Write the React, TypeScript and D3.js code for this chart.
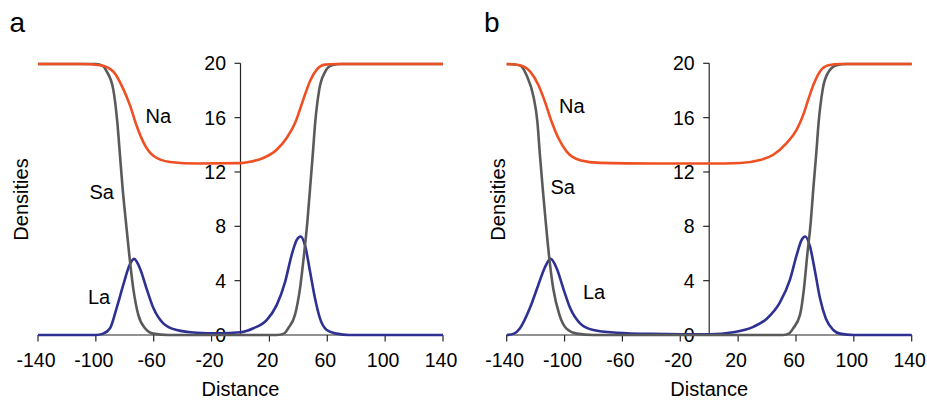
import React from "react";
import * as d3 from "d3";

// Tick values shared by both panels
const xTicks = [-140, -100, -60, -20, 20, 60, 100, 140];
const yTicks = [0, 4, 8, 12, 16, 20];

// Panel a: density profiles along the distance axis
const aNaX = [-140, -110, -97, -88, -81, -76.4, -71.8, -67.2, -60.3, -48.7, -30, 0, 6.6, 15.8, 25, 31.9, 37.7, 41.1, 44.6, 48.1, 52.7, 58.4, 66.5, 100, 140];
const aNaY = [19.95, 19.95, 19.85, 19.4, 18.1, 16.9, 15.4, 14.2, 13.2, 12.74, 12.62, 12.65, 12.75, 13.03, 13.64, 14.5, 15.6, 16.6, 17.7, 18.7, 19.53, 19.9, 19.95, 19.95, 19.95];

const aSaX = [-140, -100, -95, -92.5, -88, -85.2, -83.3, -81.5, -79.2, -76.9, -74.1, -70.7, -66, -60.3, -50, 25, 30, 33, 37.7, 41.1, 43.9, 46.2, 48.1, 49.9, 51.7, 54.5, 58.4, 63.1, 70, 140];
const aSaY = [19.95, 19.95, 19.8, 19.4, 18.1, 15.7, 13.2, 10.8, 8.3, 5.9, 3.4, 1.5, 0.5, 0.1, 0, 0, 0.1, 0.5, 1.5, 3.4, 5.9, 8.3, 10.8, 13.2, 15.7, 18.1, 19.35, 19.85, 19.95, 19.95];

const aLaX = [-140, -100, -95, -90.2, -85.6, -81, -76.9, -73.6, -69.5, -64.9, -60.3, -53.4, -44.1, -30.3, -15, 0, 8.9, 18.1, 25, 30.8, 35.4, 38.9, 41.6, 44.6, 48.1, 51.5, 55, 59.6, 66.5, 75, 140];
const aLaY = [0, 0, 0.1, 0.5, 2.0, 3.7, 5.1, 5.6, 4.9, 3.4, 2.0, 0.86, 0.37, 0.17, 0.12, 0.2, 0.5, 1.1, 2.2, 3.9, 5.9, 7.0, 7.25, 6.6, 4.65, 2.7, 1.2, 0.37, 0.1, 0, 0];

// Panel b
const bNaX = [-140, -131, -123.9, -118.1, -113.5, -108.9, -104.3, -98.5, -89.3, -75.5, -40, 0, 21.3, 35.1, 44.3, 53.5, 60.4, 65, 68.4, 72, 76.6, 82.4, 90.4, 100, 140];
const bNaY = [19.95, 19.85, 19.4, 18.4, 17.15, 15.7, 14.5, 13.5, 12.87, 12.67, 12.62, 12.62, 12.66, 12.88, 13.27, 14.13, 15.1, 16.2, 17.3, 18.4, 19.4, 19.85, 19.95, 19.95, 19.95];

const bSaX = [-140, -131, -126.2, -121.6, -118.8, -117, -115.1, -113, -110.8, -107.8, -103.6, -98.5, -91.6, -80, 51, 55, 58.1, 62.8, 65.5, 67.8, 70.2, 72, 73.9, 75.7, 78.5, 82.4, 88.1, 95, 140];
const bSaY = [19.95, 19.85, 19.1, 17.6, 15.7, 13.2, 10.8, 8.3, 5.9, 3.4, 1.5, 0.45, 0.1, 0, 0, 0.1, 0.5, 1.5, 3.4, 5.9, 8.3, 10.8, 13.2, 15.7, 18.1, 19.35, 19.85, 19.95, 19.95];

const bLaX = [-140, -135, -130.8, -123.9, -118.1, -113.5, -109.6, -105.4, -100.8, -96.2, -89.3, -80.1, -63.9, -40, -10, 0.5, 16.7, 30.5, 39.8, 48.9, 55.9, 60.5, 63.9, 66.4, 69.7, 73.2, 76.6, 80.7, 85.8, 90.4, 100, 140];
const bLaY = [0, 0.1, 0.5, 2.0, 3.7, 5.0, 5.6, 4.9, 3.4, 2.0, 0.86, 0.37, 0.17, 0.08, 0.05, 0.05, 0.2, 0.6, 1.2, 2.4, 4.1, 5.9, 7.0, 7.25, 6.5, 4.65, 2.7, 1.2, 0.37, 0.1, 0, 0];

const FONT = "Arial, 'Liberation Sans', Helvetica, sans-serif";
const COLORS = { Na: "#EF5023", Sa: "#5A5A5A", La: "#2E3192" };
const AXIS = "#262626";

type Pt = [number, number];
const zip = (xs: number[], ys: number[]): Pt[] => xs.map((x, i) => [x, ys[i]]);

interface Label { text: string; x: number; y: number }
interface PanelProps {
  letter: string;
  letterX: number;
  x0: number;
  x1: number;
  ylabelX: number;
  na: Pt[];
  sa: Pt[];
  la: Pt[];
  labels: Label[];
}

function Panel({ letter, letterX, x0, x1, ylabelX, na, sa, la, labels }: PanelProps) {
  const x = d3.scaleLinear().domain([-140, 140]).range([x0, x1]);
  const y = d3.scaleLinear().domain([0, 20]).range([335, 63.3]);
  const line = d3
    .line<Pt>()
    .x((d) => x(d[0]))
    .y((d) => y(d[1]))
    .curve(d3.curveMonotoneX);
  const zx = x(0);
  return (
    <g>
      <text x={letterX} y={31.5} fontSize={28} fontFamily={FONT} fill="#000">
        {letter}
      </text>
      {/* x axis */}
      <line x1={x(-140)} x2={x(140)} y1={y(0)} y2={y(0)} stroke={AXIS} strokeWidth={1.2} />
      {xTicks.map((t) => (
        <g key={"x" + t}>
          <line x1={x(t)} x2={x(t)} y1={y(0)} y2={y(0) + 6.5} stroke={AXIS} strokeWidth={1.2} />
          <text
            x={x(t) - 2}
            y={367}
            fontSize={19.5}
            fontFamily={FONT}
            textAnchor="middle"
            fill="#000"
          >
            {t}
          </text>
        </g>
      ))}
      {/* y axis at distance zero */}
      <line x1={zx} x2={zx} y1={y(20)} y2={y(0)} stroke={AXIS} strokeWidth={1.2} />
      {yTicks.map((t) => (
        <g key={"y" + t}>
          <line x1={zx - 6} x2={zx} y1={y(t)} y2={y(t)} stroke={AXIS} strokeWidth={1.2} />
          <text
            x={zx - 14.5}
            y={y(t)}
            dy="0.36em"
            fontSize={19.5}
            fontFamily={FONT}
            textAnchor="end"
            fill="#000"
          >
            {t}
          </text>
        </g>
      ))}
      <text
        x={(x(-140) + x(140)) / 2}
        y={395.5}
        fontSize={20}
        fontFamily={FONT}
        textAnchor="middle"
        fill="#000"
      >
        Distance
      </text>
      <text
        transform={`translate(${ylabelX},199.5) rotate(-90)`}
        fontSize={20}
        fontFamily={FONT}
        textAnchor="middle"
        fill="#000"
      >
        Densities
      </text>
      <path d={line(la) ?? ""} fill="none" stroke={COLORS.La} strokeWidth={2.6} />
      <path d={line(sa) ?? ""} fill="none" stroke={COLORS.Sa} strokeWidth={2.6} />
      <path d={line(na) ?? ""} fill="none" stroke={COLORS.Na} strokeWidth={2.6} />
      {labels.map((l) => (
        <text key={l.text} x={l.x} y={l.y} fontSize={20} fontFamily={FONT} fill="#000">
          {l.text}
        </text>
      ))}
    </g>
  );
}

export default function App() {
  return (
    <svg
      width={927}
      height={401}
      viewBox="0 0 927 401"
      style={{ position: "absolute", left: 0, top: 0, background: "#fff" }}
    >
      <rect width={927} height={401} fill="#fff" />
      <Panel
        letter="a"
        letterX={9.5}
        x0={38}
        x1={443}
        ylabelX={28}
        na={zip(aNaX, aNaY)}
        sa={zip(aSaX, aSaY)}
        la={zip(aLaX, aLaY)}
        labels={[
          { text: "Na", x: 145.5, y: 123.3 },
          { text: "Sa", x: 89.5, y: 199 },
          { text: "La", x: 88, y: 304.3 },
        ]}
      />
      <Panel
        letter="b"
        letterX={484}
        x0={506.7}
        x1={911.7}
        ylabelX={505}
        na={zip(bNaX, bNaY)}
        sa={zip(bSaX, bSaY)}
        la={zip(bLaX, bLaY)}
        labels={[
          { text: "Na", x: 559, y: 113.3 },
          { text: "Sa", x: 550.5, y: 194 },
          { text: "La", x: 583, y: 299.3 },
        ]}
      />
    </svg>
  );
}
